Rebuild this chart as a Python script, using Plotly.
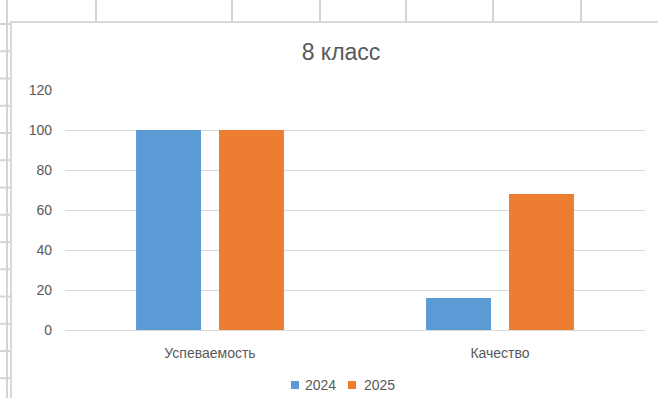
import plotly.graph_objects as go

categories = ["Успеваемость", "Качество"]
series_names = ["2024", "2025"]
values_2024 = [100, 16]
values_2025 = [100, 68]
y_ticks = [0, 20, 40, 60, 80, 100, 120]
colors = ["#5B9BD5", "#ED7D31"]

W, H = 658, 398
L, R, T, B = 65, 13, 90, 68


def px_x(x):
    return (x - L) / (W - L - R)


def px_y(y):
    return (H - B - y) / (H - T - B)


fig = go.Figure()
for name, vals, col in zip(series_names, [values_2024, values_2025], colors):
    fig.add_trace(go.Bar(x=categories, y=vals, name=name,
                         marker=dict(color=col, line=dict(width=0))))

# spreadsheet cell borders behind the chart object
shapes = []
grid = dict(color="#D4D4D4", width=2)
for x in [96, 232, 320, 406, 493, 581]:
    shapes.append(dict(type="line", xref="paper", yref="paper",
                       x0=px_x(x), x1=px_x(x), y0=px_y(0), y1=px_y(22), line=grid))
shapes.append(dict(type="line", xref="paper", yref="paper",
                   x0=px_x(7), x1=px_x(7), y0=px_y(0), y1=px_y(H), line=grid))
for k in range(15):
    y = 24 + 27.25 * k
    shapes.append(dict(type="line", xref="paper", yref="paper",
                       x0=px_x(0), x1=px_x(10), y0=px_y(y), y1=px_y(y), line=grid))
border = dict(color="#D9D9D9", width=2)
shapes.append(dict(type="line", xref="paper", yref="paper",
                   x0=px_x(10), x1=px_x(W), y0=px_y(22), y1=px_y(22), line=border))
shapes.append(dict(type="line", xref="paper", yref="paper",
                   x0=px_x(11), x1=px_x(11), y0=px_y(22), y1=px_y(H), line=border))

# Excel-style legend: small square right next to the label
annotations = []
for name, col, sq_x, txt_x in zip(series_names, colors, [291, 348], [303, 362]):
    shapes.append(dict(type="rect", xref="paper", yref="paper",
                       x0=px_x(sq_x), x1=px_x(sq_x + 8),
                       y0=px_y(381), y1=px_y(389),
                       fillcolor=col, line=dict(width=0)))
    annotations.append(dict(text=name, xref="paper", yref="paper",
                            x=px_x(txt_x), xanchor="left",
                            y=px_y(385), yanchor="middle", showarrow=False,
                            font=dict(size=14, color="#595959")))

fig.update_layout(
    width=W, height=H,
    margin=dict(l=L, r=R, t=T, b=B, autoexpand=False),
    paper_bgcolor="white", plot_bgcolor="white",
    font=dict(family="Liberation Sans, Arial, sans-serif", color="#595959", size=13),
    title=dict(text="8 класс", x=341 / W, xanchor="center",
               y=1 - 52 / H, yanchor="middle",
               font=dict(size=23, color="#595959")),
    barmode="group", bargap=0.428, bargroupgap=0.217,
    xaxis=dict(showgrid=False, showline=True, linecolor="#D9D9D9", linewidth=1,
               ticks="", ticklabelstandoff=10,
               tickfont=dict(size=14, color="#595959")),
    yaxis=dict(range=[0, 120], tickvals=y_ticks, showgrid=True,
               gridcolor="#D9D9D9", gridwidth=1, zeroline=False,
               showline=False, ticks="", ticklabelstandoff=12,
               tickfont=dict(size=14, color="#595959")),
    shapes=shapes,
    annotations=annotations,
    showlegend=False,
)

# drop the default body margin so the figure sits at the window origin
fig.write_html("out.html", config={"displayModeBar": False},
               post_script="document.body.style.margin='0';")
